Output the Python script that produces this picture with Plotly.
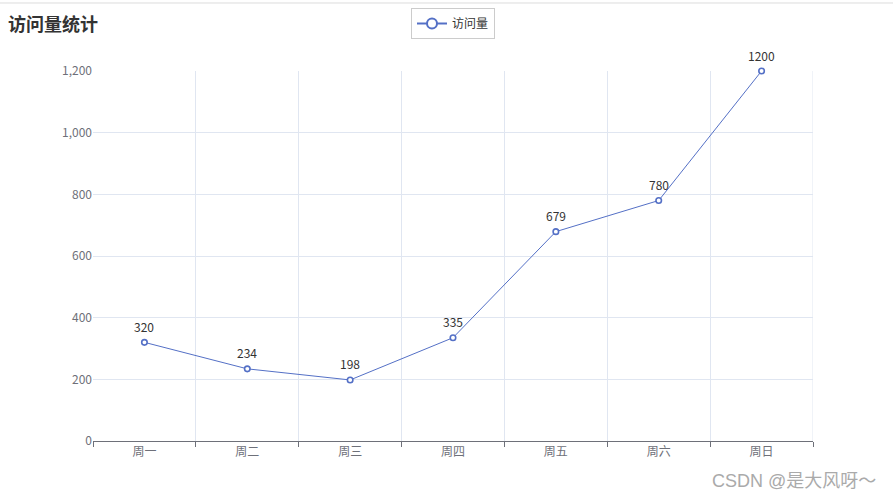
import plotly.graph_objects as go

categories = ["周一", "周二", "周三", "周四", "周五", "周六", "周日"]
visits = [320, 234, 198, 335, 679, 780, 1200]
y_ticks = [0, 200, 400, 600, 800, 1000, 1200]

FONT = "Noto Sans CJK SC, Noto Sans, sans-serif"
x_pos = list(range(len(categories)))

fig = go.Figure()
fig.add_trace(go.Scatter(
    x=x_pos, y=visits, mode="lines+markers", name="访问量", showlegend=False,
    line=dict(color="#5470c6", width=1),
    marker=dict(symbol="circle", size=5.5, color="#ffffff",
                line=dict(color="#5470c6", width=1.6)),
    cliponaxis=False,
))
# legend-only entry with the heavier ECharts-style legend icon
fig.add_trace(go.Scatter(
    x=[None], y=[None], mode="lines+markers", name="访问量", showlegend=True,
    line=dict(color="#5470c6", width=2),
    marker=dict(symbol="circle", size=10, color="#ffffff",
                line=dict(color="#5470c6", width=2)),
))

label_annotations = [
    dict(x=xi, y=v, text=str(v), xref="x", yref="y", showarrow=False,
         yshift=16, xanchor="center", yanchor="middle",
         font=dict(size=12, color="#333333", family=FONT))
    for xi, v in zip(x_pos, visits)
]

fig.update_layout(
    width=893, height=500,
    paper_bgcolor="#ffffff", plot_bgcolor="#ffffff",
    margin=dict(l=93, r=80, t=71, b=59),
    font=dict(family=FONT, size=12, color="#6E7079"),
    title=dict(text="<b>访问量统计</b>", x=0.009, xanchor="left", y=0.95, yanchor="middle",
               font=dict(size=18, color="#333333", family=FONT)),
    showlegend=True,
    legend=dict(orientation="h", x=0.5, xanchor="center", y=0.984, yref="container", yanchor="top",
                bordercolor="#cccccc", borderwidth=1, bgcolor="#ffffff",
                font=dict(size=12, color="#333333", family=FONT),
                itemwidth=30, tracegroupgap=0),
    xaxis=dict(
        range=[-0.5, 6.5], tickvals=x_pos, ticktext=categories,
        showgrid=False, ticks="", zeroline=False,
        showline=True, linecolor="#6E7079", linewidth=1,
        tickfont=dict(size=12, color="#6E7079"),
        minor=dict(tick0=-0.5, dtick=1, showgrid=True, gridcolor="#E0E6F1", gridwidth=1,
                   ticks="outside", ticklen=5, tickcolor="#6E7079"),
    ),
    yaxis=dict(
        range=[0, 1200], tickvals=y_ticks, tickformat=",",
        showgrid=True, gridcolor="#E0E6F1", gridwidth=1,
        zeroline=False, showline=False, ticks="", ticklen=8,
        tickfont=dict(size=12, color="#6E7079"),
    ),
    shapes=[
        dict(type="line", xref="paper", yref="paper", x0=-0.2, x1=1.2, y0=1.1838, y1=1.1838,
             line=dict(color="#dddddd", width=1)),
        dict(type="line", xref="x", yref="paper", x0=6.5, x1=6.5, y0=0, y1=1,
             line=dict(color="#E0E6F1", width=1), layer="below"),
    ],
    annotations=label_annotations + [
        dict(text="CSDN @是大风呀～", xref="paper", yref="paper", x=1.09, y=-0.108,
             xanchor="right", yanchor="middle", showarrow=False,
             font=dict(size=18, color="#aaaaaa", family="Liberation Sans, Noto Sans CJK SC, sans-serif")),
    ],
)

fig.write_html("out.html", config={"displayModeBar": False},
               post_script="document.body.style.margin='0';")
